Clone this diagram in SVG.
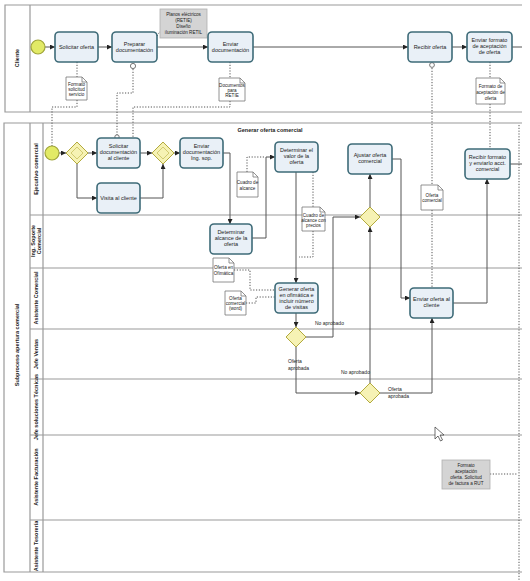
<svg xmlns="http://www.w3.org/2000/svg" width="530" height="581" viewBox="0 0 530 581">
<defs>
<marker id="arr" viewBox="0 0 6 6" refX="6" refY="3" markerWidth="5" markerHeight="5" orient="auto"><path d="M0,0 L6,3 L0,6 z" fill="#222"/></marker>
<style>
.task{fill:#e9f0f7;stroke:#3e6b78;stroke-width:1.6}
.gw{fill:#f6f2b4;stroke:#b3aa3e;stroke-width:1}
.gwi{fill:none;stroke:#c9c060;stroke-width:0.8}
.ev{fill:#e2ea66;stroke:#a0a53a;stroke-width:1.2}
.flow{fill:none;stroke:#555;stroke-width:1;marker-end:url(#arr)}
.line{fill:none;stroke:#555;stroke-width:1}
.assoc{fill:none;stroke:#555;stroke-width:1;stroke-dasharray:1.2 1.6}
.lane{stroke:#9a9a9a;stroke-width:1.2;fill:none}
.doc{fill:#fff;stroke:#777;stroke-width:0.8}
.note{fill:#d4d4d4;stroke:#b0b0b0;stroke-width:0.8}
.t{font-family:'Liberation Sans',Arial,sans-serif;font-size:5.5px;fill:#222;text-anchor:middle}
.d{font-family:'Liberation Sans',Arial,sans-serif;font-size:4.6px;fill:#222;text-anchor:middle}
.l{font-family:'Liberation Sans',Arial,sans-serif;font-size:5px;fill:#222}
.h{font-family:'Liberation Sans',Arial,sans-serif;font-size:5.5px;font-weight:bold;fill:#222;text-anchor:middle}
</style>
</defs>
<rect width="530" height="581" fill="#fff"/>

<g id="pool-cliente">
<path class="lane" d="M522,5 H5 V112 H522 M30,5 V112"/>
<text class="h" transform="translate(19,58) rotate(-90)">Cliente</text>
</g>

<g id="pool-subproceso">
<path class="lane" d="M522,123 H4 V572 H522 M30,123 V572 M43,123 V572"/>
<path class="lane" d="M30,215 H522 M30,268 H522 M30,329 H522 M30,379 H522 M30,435 H522 M30,520 H522"/>
<text class="h" transform="translate(19,345) rotate(-90)">Subproceso apertura comercial</text>
<text class="h" transform="translate(38,169) rotate(-90)">Ejecutivo comercial</text>
<text class="h" transform="translate(35,241) rotate(-90)">Ing. Soporte</text>
<text class="h" transform="translate(41,241) rotate(-90)">Comercial</text>
<text class="h" transform="translate(38,298) rotate(-90)">Asistente Comercial</text>
<text class="h" transform="translate(38,354) rotate(-90)">Jefe Ventas</text>
<text class="h" transform="translate(38,407) rotate(-90)">Jefe soluciones Técnicas</text>
<text class="h" transform="translate(38,477) rotate(-90)">Asistente Facturación</text>
<text class="h" transform="translate(38,546) rotate(-90)">Asistente Tesorería</text>
<text class="h" x="270" y="132">Generar oferta comercial</text>
</g>

<g id="connectors">
<path class="flow" d="M45,47 H55"/>
<path class="flow" d="M98,47 H112"/>
<path class="flow" d="M157,47 H208"/>
<path class="flow" d="M253,47 H408"/>
<path class="flow" d="M452,47 H467"/>
<path class="line" d="M512,47 H522"/>
<path class="flow" d="M59,153 H66"/>
<path class="flow" d="M88,153 H97"/>
<path class="flow" d="M77,164 V198 H97"/>
<path class="flow" d="M140,153 H152"/>
<path class="flow" d="M140,198 H163 V164"/>
<path class="flow" d="M174,153 H180"/>
<path class="flow" d="M223,153 H230 V224"/>
<path class="flow" d="M252,238 H266 V157 H275"/>
<path class="flow" d="M296,172 V283"/>
<path class="flow" d="M296,313 V327"/>
<path class="flow" d="M306,337 H333 V217 H360"/>
<path class="flow" d="M370,207 V174"/>
<path class="flow" d="M370,383 V227"/>
<path class="flow" d="M392,159 H401 V298 H410"/>
<path class="flow" d="M453,303 H487 V179"/>
<path class="line" d="M510,164 H522"/>
<path class="flow" d="M296,347 V393 H360"/>
<path class="flow" d="M380,393 H432 V318"/>
<path class="assoc" d="M77,62 V77"/>
<path class="assoc" d="M230,62 V78"/>
<path class="assoc" d="M490,62 V78"/>
<path class="assoc" d="M490,104 V149"/>
<path class="assoc" d="M77,100 V107 H52 V146"/>
<path class="assoc" d="M133,69 V93 H117 V136"/>
<path class="assoc" d="M230,101 V107 H133 V138"/>
<path class="assoc" d="M432,68 V185"/>
<path class="assoc" d="M432,210 V288"/>
<path class="assoc" d="M157,36 L161,30"/>
<path class="assoc" d="M247,172 V157 H264"/>
<path class="assoc" d="M313,172 V207"/>
<path class="assoc" d="M313,231 V257 H299"/>
<path class="assoc" d="M234,270 H250 V290 H275"/>
<path class="assoc" d="M246,303 H256 V297 H275"/>
<path class="assoc" d="M490,474 H518"/>
<path class="assoc" d="M519,125 V581"/>
<circle cx="133" cy="66" r="2.6" fill="#fff" stroke="#555" stroke-width="0.8"/>
<circle cx="117" cy="137" r="2.2" fill="#fff" stroke="#555" stroke-width="0.8"/>
<circle cx="432" cy="65" r="2.4" fill="#fff" stroke="#555" stroke-width="0.8"/>
<text class="l" x="315" y="325">No aprobado</text>
<text class="l" x="288" y="363">Oferta</text>
<text class="l" x="288" y="370">aprobada</text>
<text class="l" x="341" y="374">No aprobado</text>
<text class="l" x="388" y="391">Oferta</text>
<text class="l" x="388" y="398">aprobada</text>
</g>

<g id="start-cliente"><circle class="ev" cx="38" cy="47" r="7"/></g>
<g id="t-solicitar-oferta"><rect class="task" x="55" y="32" width="43" height="30" rx="4"/><text class="t" x="76.5" y="49">Solicitar oferta</text></g>
<g id="t-preparar-doc"><rect class="task" x="112" y="32" width="45" height="30" rx="4"/><text class="t" x="134.5" y="46">Preparar</text><text class="t" x="134.5" y="52">documentación</text></g>
<g id="n-planos"><rect class="note" x="160" y="9" width="47" height="29"/><text class="d" x="183.5" y="16">Planos eléctricos</text><text class="d" x="183.5" y="22">(RETIE)</text><text class="d" x="183.5" y="28">Diseño</text><text class="d" x="183.5" y="34">iluminación RETIL</text></g>
<g id="t-enviar-doc"><rect class="task" x="208" y="32" width="45" height="30" rx="4"/><text class="t" x="230.5" y="46">Enviar</text><text class="t" x="230.5" y="52">documentación</text></g>
<g id="t-recibir-oferta"><rect class="task" x="408" y="32" width="44" height="30" rx="4"/><text class="t" x="430" y="49">Recibir oferta</text></g>
<g id="t-enviar-formato"><rect class="task" x="467" y="32" width="45" height="30" rx="4"/><text class="t" x="489.5" y="42">Enviar formato</text><text class="t" x="489.5" y="48">de aceptación</text><text class="t" x="489.5" y="54">de oferta</text></g>

<g id="d-formato-solicitud"><path class="doc" d="M66,77 h16 l5,5 v18 h-21 z M82,77 v5 h5"/><text class="d" x="76.5" y="86">Formato</text><text class="d" x="76.5" y="91">solicitud</text><text class="d" x="76.5" y="96">servicio</text></g>
<g id="d-documentos-retie"><path class="doc" d="M219,78 h21 l5,5 v18 h-26 z M240,78 v5 h5"/><text class="d" x="232" y="87">Documentos</text><text class="d" x="232" y="92">para</text><text class="d" x="232" y="97">RETIE</text></g>
<g id="d-formato-aceptacion"><path class="doc" d="M476,78 h24 l5,5 v21 h-29 z M500,78 v5 h5"/><text class="d" x="490.5" y="88">Formato de</text><text class="d" x="490.5" y="94">aceptación de</text><text class="d" x="490.5" y="100">oferta</text></g>

<g id="start-sub"><circle class="ev" cx="52" cy="153" r="7"/></g>
<g id="gw1"><path class="gw" d="M77,142 L88,153 L77,164 L66,153 z"/><path class="gwi" d="M77,147 L83,153 L77,159 L71,153 z"/></g>
<g id="t-solicitar-doc"><rect class="task" x="97" y="138" width="43" height="30" rx="4"/><text class="t" x="118.5" y="148">Solicitar</text><text class="t" x="118.5" y="154">documentación</text><text class="t" x="118.5" y="160">al cliente</text></g>
<g id="t-visita"><rect class="task" x="97" y="183" width="43" height="30" rx="4"/><text class="t" x="118.5" y="200">Visita al cliente</text></g>
<g id="gw2"><path class="gw" d="M163,142 L174,153 L163,164 L152,153 z"/><path class="gwi" d="M163,147 L169,153 L163,159 L157,153 z"/></g>
<g id="t-enviar-doc-ing"><rect class="task" x="180" y="138" width="43" height="30" rx="4"/><text class="t" x="201.5" y="148">Enviar</text><text class="t" x="201.5" y="154">documentación</text><text class="t" x="201.5" y="160">Ing. sop.</text></g>
<g id="d-cuadro-alcance"><path class="doc" d="M237,172 h16 l5,5 v20 h-21 z M253,172 v5 h5"/><text class="d" x="247.5" y="184">Cuadro de</text><text class="d" x="247.5" y="190">alcance</text></g>
<g id="t-determinar-alcance"><rect class="task" x="210" y="224" width="42" height="30" rx="4"/><text class="t" x="231" y="234">Determinar</text><text class="t" x="231" y="240">alcance de la</text><text class="t" x="231" y="246">oferta</text></g>
<g id="t-determinar-valor"><rect class="task" x="275" y="142" width="43" height="30" rx="4"/><text class="t" x="296.5" y="152">Determinar el</text><text class="t" x="296.5" y="158">valor de la</text><text class="t" x="296.5" y="164">oferta</text></g>
<g id="d-cuadro-precios"><path class="doc" d="M302,207 h18 l5,5 v19 h-23 z M320,207 v5 h5"/><text class="d" x="313.5" y="217">Cuadro de</text><text class="d" x="313.5" y="222">alcance con</text><text class="d" x="313.5" y="227">precios</text></g>
<g id="d-oferta-ofimatica"><path class="doc" d="M213,258 h16 l5,5 v19 h-21 z M229,258 v5 h5"/><text class="d" x="223.5" y="269">Oferta en</text><text class="d" x="223.5" y="275">Ofimática</text></g>
<g id="d-oferta-word"><path class="doc" d="M225,291 h16 l5,5 v19 h-21 z M241,291 v5 h5"/><text class="d" x="235.5" y="300">Oferta</text><text class="d" x="235.5" y="305">comercial</text><text class="d" x="235.5" y="310">(word)</text></g>
<g id="t-generar-oferta"><rect class="task" x="275" y="283" width="43" height="30" rx="4"/><text class="t" x="296.5" y="291">Generar oferta</text><text class="t" x="296.5" y="297">en ofimática e</text><text class="t" x="296.5" y="303">incluir número</text><text class="t" x="296.5" y="309">de visitas</text></g>
<g id="gw3"><path class="gw" d="M296,327 L306,337 L296,347 L286,337 z"/></g>
<g id="gw4"><path class="gw" d="M370,207 L380,217 L370,227 L360,217 z"/></g>
<g id="gw5"><path class="gw" d="M370,383 L380,393 L370,403 L360,393 z"/></g>
<g id="t-ajustar"><rect class="task" x="348" y="144" width="44" height="30" rx="4"/><text class="t" x="370" y="157">Ajustar oferta</text><text class="t" x="370" y="163">comercial</text></g>
<g id="d-oferta-comercial"><path class="doc" d="M421,185 h17 l5,5 v20 h-22 z M438,185 v5 h5"/><text class="d" x="432" y="197">Oferta</text><text class="d" x="432" y="202">comercial</text></g>
<g id="t-enviar-oferta"><rect class="task" x="410" y="288" width="43" height="30" rx="4"/><text class="t" x="431.5" y="301">Enviar oferta al</text><text class="t" x="431.5" y="307">cliente</text></g>
<g id="t-recibir-formato"><rect class="task" x="465" y="149" width="45" height="30" rx="4"/><text class="t" x="487.5" y="159">Recibir formato</text><text class="t" x="487.5" y="165">y enviarlo acct.</text><text class="t" x="487.5" y="171">comercial</text></g>
<g id="n-formato-factura"><rect class="note" x="442" y="460" width="48" height="29"/><text class="d" x="466" y="467">Formato</text><text class="d" x="466" y="473">aceptación</text><text class="d" x="466" y="479">oferta. Solicitud</text><text class="d" x="466" y="485">de factura a RUT</text></g>
<path d="M435,427 V439 L438,436 L440.5,441 L442.5,440 L440,435 L444,435 z" fill="#fff" stroke="#333" stroke-width="0.7"/>
</svg>
